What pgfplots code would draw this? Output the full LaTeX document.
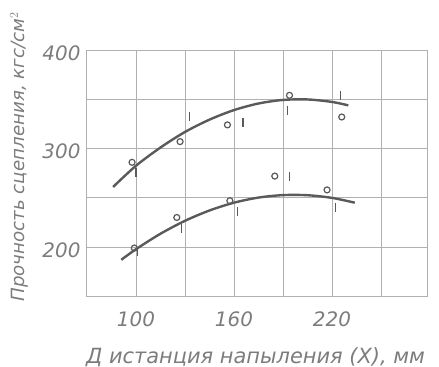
\documentclass[border=0pt]{standalone}
\usepackage{fontspec}
\setmainfont{DejaVu Sans}
\usepackage{pgfplots}
\pgfplotsset{compat=1.18}
\definecolor{txt}{HTML}{7C7C7C}
\definecolor{crv}{HTML}{5A5A5A}
\definecolor{grd}{HTML}{B0B0B0}
\begin{document}
\begin{tikzpicture}
\path[use as bounding box] (0,0) rectangle (439bp,367bp);
\begin{axis}[
  at={(86bp,71bp)}, anchor=south west,
  scale only axis, width=341bp, height=246bp,
  xmin=69.4, xmax=278.2, ymin=150.3, ymax=400,
  xtick={100,130,160,190,220,250}, xticklabels={100,,160,,220,},
  ytick={200,250,300,350,400}, yticklabels={200,,300,,400},
  major tick length=0pt,
  grid=major, major grid style={grd, line width=0.7bp},
  axis line style={grd, line width=0.9bp},
  /pgf/number format/assume math mode=true,
  tick label style={font=\fontsize{20}{22}\selectfont\itshape, text=txt},
  xticklabel style={yshift=-12bp},
  yticklabel style={xshift=-2bp, yshift=-3bp},
  xlabel={Д истанция напыления (X), мм},
  ylabel={Прочность сцепления, кгс/см$^2$},
  xlabel style={font=\fontsize{21}{23}\selectfont\itshape, text=txt, at={(axis description cs:0.497,-0.248)}, anchor=center},
  ylabel style={font=\fontsize{18.3}{20}\selectfont\itshape, text=txt, at={(axis description cs:-0.196,0.565)}, anchor=center},
  clip=false,
]
% upper curve
\addplot[crv, line width=2.4bp, smooth] coordinates {
 (86,261) (100,282.5) (115,301) (130,316.8) (145,329.3) (160,339) (175,345.7) (190,349.3) (205,349.8) (220,347.3) (230,343.8)};
% lower curve
\addplot[crv, line width=2.4bp, smooth] coordinates {
 (91,187) (100,197.8) (115,213.5) (130,226.6) (145,237.1) (160,245) (175,250.2) (190,252.7) (205,252.6) (220,249.9) (234,245)};
% circles
\addplot[only marks, mark=o, mark size=3bp, crv, line width=1.2bp] coordinates {
 (97.6,286) (127,307) (156,324) (194,354) (226,332)
 (99,199) (125,230) (157.5,247) (185,272) (217,258)};
% ticks
\addplot[only marks, mark=|, mark size=4.5bp, crv, line width=1.2bp] coordinates {
 (100,276) (133,332) (165.5,326) (193,339) (225,354)
 (101,195) (128,219) (162,236) (194,272) (222,240)};
\end{axis}
\end{tikzpicture}
\end{document}
